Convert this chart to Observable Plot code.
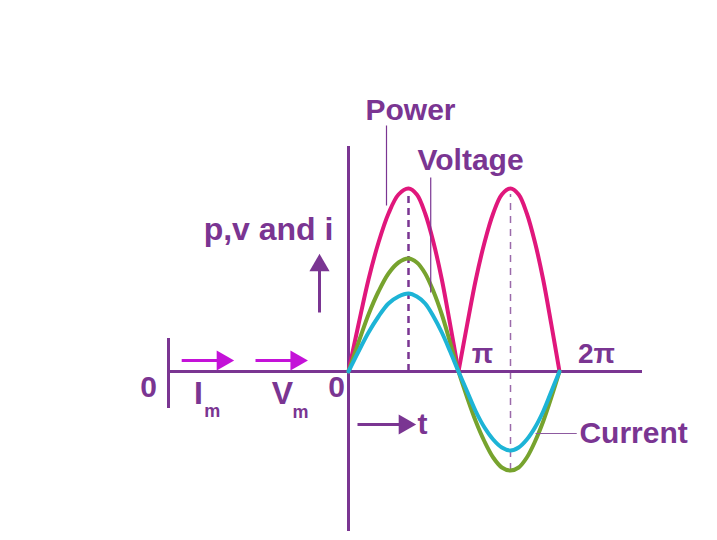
<!DOCTYPE html>
<html><head><meta charset="utf-8">
<script src="https://cdn.jsdelivr.net/npm/d3@7"></script>
<script src="https://cdn.jsdelivr.net/npm/@observablehq/plot@0.6"></script>
<style>html,body{margin:0;padding:0;background:#fff;} svg{display:block;}</style>
</head><body>
<div id="chart"></div>
<script>
// phase angle (degrees) and the three waveforms (px-like units above the time axis)
const phase   = [0,15,30,45,60,75,90,105,120,135,150,165,180,195,210,225,240,255,270,285,300,315,330,345,360];
const power   = [0,47,92,129,158,177,183,177,158,129,92,47,0,47,92,129,158,177,183,177,158,129,92,47,0];
const voltage = [0,29,57,80,98,109,113,109,98,80,57,29,0,-26,-50,-70,-86,-96,-99,-96,-86,-70,-50,-26,0];
const current = [0,20,39,55,68,75,78,75,68,55,39,20,0,-20,-40,-56,-68,-76,-79,-76,-68,-56,-40,-20,0];
const tickAngles = [180, 360];
const tickLabels = ["π", "2π"];

const purple = "#7a3592", pink = "#e0177c", green = "#77a32e", cyan = "#1db4d6", magenta = "#c412d8";
const font = "Liberation Sans, Arial, sans-serif";

const powerRows = [];
phase.forEach((p, i) => {
  if (p <= 180) powerRows.push({p, v: power[i], hump: 1});
  if (p >= 180) powerRows.push({p, v: power[i], hump: 2});
});
const vRows = phase.map((p, i) => ({p, v: voltage[i]}));
const cRows = phase.map((p, i) => ({p, v: current[i]}));

const txt = (data, opts) => Plot.text(data, {fill: purple, fontWeight: "bold", fontFamily: font, ...opts});

const chart = Plot.plot({
  width: 717, height: 540, margin: 0,
  style: {background: "#fff", fontFamily: font},
  x: {type: "linear", domain: [-300, 0, 90, 180, 270, 360, 490], range: [168, 348, 408, 458, 510, 559, 642], axis: null},
  y: {type: "linear", domain: [-169, 371], range: [540, 0], axis: null},
  marks: [
    // dashed guides at peaks
    Plot.ruleX([90], {y1: 0, y2: 177, stroke: purple, strokeWidth: 2.5, strokeDasharray: "7,5"}),
    Plot.ruleX([270], {y1: -99, y2: 177, stroke: "#9b6aaa", strokeWidth: 1.5, strokeDasharray: "7,6"}),
    // axes
    Plot.ruleY([0], {x1: -300, x2: 490, stroke: purple, strokeWidth: 3}),
    Plot.ruleX([0], {y1: -160, y2: 225, stroke: purple, strokeWidth: 3}),
    Plot.ruleX([-300], {y1: -37, y2: 33, stroke: purple, strokeWidth: 3}),
    // curves
    Plot.line(powerRows, {x: "p", y: "v", z: "hump", stroke: pink, strokeWidth: 4, curve: "catmull-rom"}),
    Plot.line(vRows, {x: "p", y: "v", stroke: green, strokeWidth: 4, curve: "catmull-rom"}),
    Plot.line(cRows, {x: "p", y: "v", stroke: cyan, strokeWidth: 4, curve: "catmull-rom"}),
    // leader lines
    Plot.link([0], {x1: 57, x2: 57, y1: 246, y2: 166, stroke: purple, strokeWidth: 1.2}),
    Plot.link([0], {x1: 130, x2: 130, y1: 194, y2: 79, stroke: purple, strokeWidth: 1.2}),
    Plot.link([0], {x1: 316, x2: 387, y1: -62, y2: -62, stroke: "#8d5aa0", strokeWidth: 1.2}),
    // arrows: shafts
    Plot.link([0], {x1: -48.3, x2: -48.3, y1: 59, y2: 108, stroke: purple, strokeWidth: 3}),
    Plot.link([0], {x1: 13.5, x2: 79, y1: -53, y2: -53, stroke: purple, strokeWidth: 3}),
    Plot.link([0, 1], {x1: i => [-278, -155][i], x2: i => [-215, -92][i], y1: 11, y2: 11, stroke: magenta, strokeWidth: 3}),
    // arrow heads
    Plot.dot([0], {x: -48.3, y: 106, symbol: "triangle", r: 7.5, fill: purple, stroke: null}),
    Plot.dot([0], {x: 84, y: -53, symbol: "triangle", rotate: 90, r: 7.5, fill: purple, stroke: null}),
    Plot.dot([0, 1], {x: i => [-210, -87][i], y: 11, symbol: "triangle", rotate: 90, r: 7.5, fill: magenta, stroke: null}),
    // tick labels
    txt(tickAngles, {x: (d, i) => d + [41.5, 58][i], y: 17, text: (d, i) => tickLabels[i], fontSize: 28}),
    txt(["0"], {x: -20, y: -16, fontSize: 30}),
    txt(["0"], {x: -333, y: -16, fontSize: 30}),
    // series labels
    txt(["Power"], {x: 93.6, y: 261, fontSize: 30}),
    txt(["Voltage"], {x: 200.8, y: 211, fontSize: 30}),
    txt(["Current"], {x: 476, y: -62, fontSize: 30}),
    txt(["p,v and i"], {x: -133.3, y: 142, fontSize: 32}),
    txt(["t"], {x: 115, y: -53, fontSize: 30}),
    txt(["I"], {x: -250, y: -22, fontSize: 32}),
    txt(["m"], {x: -227, y: -40, fontSize: 18}),
    txt(["V"], {x: -110, y: -22, fontSize: 32}),
    txt(["m"], {x: -80, y: -41, fontSize: 18})
  ]
});
document.getElementById("chart").append(chart);
</script>
</body></html>
